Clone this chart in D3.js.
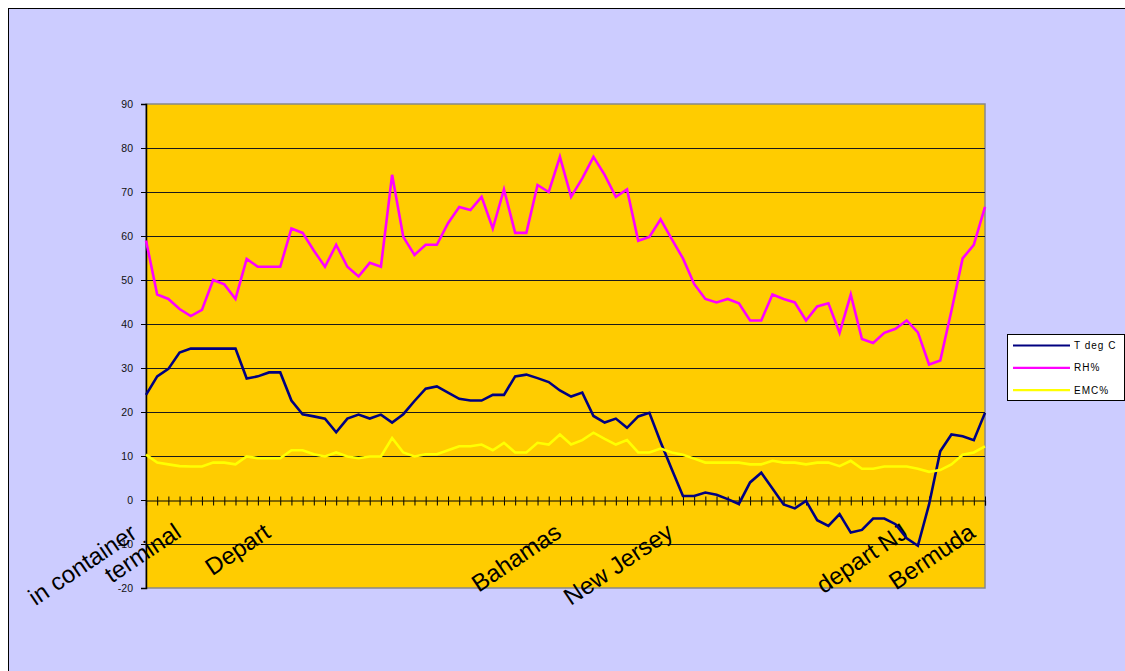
<!DOCTYPE html>
<html>
<head>
<meta charset="utf-8">
<script src="https://cdn.jsdelivr.net/npm/d3@7"></script>
<style>
  html, body { margin: 0; padding: 0; background: #ffffff; overflow: hidden; }
  svg { display: block; }
  text { font-family: "Liberation Sans", Arial, sans-serif; }
</style>
</head>
<body>
<svg id="chart" width="1125" height="671"></svg>
<script>
// ---------------- data ----------------
const seriesNames = ["T deg C", "RH%", "EMC%"];
const tempC = [23.9,28.1,29.8,33.5,34.4,34.4,34.4,34.4,34.4,27.6,
  28.1,29.0,29.0,22.6,19.5,19.0,18.5,15.4,18.5,19.4,
  18.5,19.4,17.6,19.5,22.5,25.3,25.8,24.4,23.0,22.6,
  22.6,23.9,23.9,28.1,28.5,27.7,26.8,24.9,23.5,24.4,
  19.1,17.6,18.5,16.4,19.0,19.8,13.2,7.0,0.9,0.9,
  1.7,1.2,0.2,-0.9,4.0,6.2,2.6,-1.0,-1.9,-0.2,
  -4.6,-5.9,-3.2,-7.4,-6.8,-4.2,-4.2,-5.5,-8.7,-10.4,
  -1.0,11.1,14.9,14.5,13.6,19.8];
const rhPct = [59,46.7,45.7,43.4,41.8,43.2,50,49,45.7,54.8,
  53,53,53,61.7,60.7,56.7,53,58,53,50.8,
  53.9,53,73.9,59.8,55.7,58,58,62.9,66.6,65.9,
  68.9,61.7,70.6,60.7,60.7,71.6,70,78,68.9,73.1,
  78,73.9,68.9,70.6,58.9,59.8,63.8,59.3,54.9,49.1,
  45.7,44.9,45.7,44.7,40.8,40.8,46.7,45.7,44.9,40.8,
  44,44.7,38,46.7,36.6,35.7,38,38.9,40.8,38.1,
  30.8,31.7,43,54.9,58,66.6];
const emcPct = [10.3,8.5,8.1,7.7,7.6,7.6,8.5,8.5,8.1,9.9,
  9.5,9.5,9.5,11.3,11.3,10.4,9.9,10.8,9.9,9.5,
  9.9,9.9,14.1,10.8,9.9,10.4,10.4,11.3,12.2,12.2,
  12.6,11.3,13.0,10.8,10.8,13.0,12.6,14.9,12.6,13.6,
  15.3,13.9,12.6,13.6,10.8,10.8,11.7,10.8,10.3,9.4,
  8.5,8.5,8.5,8.5,8.1,8.1,8.9,8.5,8.5,8.1,
  8.5,8.5,7.7,8.9,7.1,7.1,7.6,7.6,7.6,7.1,
  6.4,6.8,8.1,10.3,10.8,12.2];
// category labels (most categories have empty labels)
const labelIndex = [3, 11, 37, 47, 68, 74];
const labelText = [["in container", "terminal"], ["Depart"], ["Bahamas"], ["New Jersey"], ["depart NJ"], ["Bermuda"]];
const yTicks = [-20, -10, 0, 10, 20, 30, 40, 50, 60, 70, 80, 90];

// ---------------- layout ----------------
const W = 1125, H = 671;
const plot = { left: 146, right: 985, top: 104, bottom: 588 };
const colors = ["#000080", "#ff00ff", "#ffff00"];
const series = [tempC, rhPct, emcPct];

const svg = d3.select("#chart");

// chart area background with frame
svg.append("rect").attr("x", 8.5).attr("y", 8.5).attr("width", W).attr("height", H)
  .attr("fill", "#ccccff").attr("stroke", "#000").attr("stroke-width", 1);

const categories = d3.range(tempC.length);
const x = d3.scalePoint().domain(categories).range([plot.left, plot.right]);
const y = d3.scaleLinear().domain([-20, 90]).range([plot.bottom, plot.top]);

// plot area
svg.append("rect").attr("x", plot.left).attr("y", plot.top)
  .attr("width", plot.right - plot.left).attr("height", plot.bottom - plot.top)
  .attr("fill", "#ffcc00").attr("stroke", "#888888").attr("stroke-width", 1.5);

// gridlines
svg.append("g").selectAll("line").data(yTicks.filter(d => d !== -20 && d !== 90 && d !== 0))
  .join("line")
  .attr("x1", plot.left).attr("x2", plot.right)
  .attr("y1", d => Math.round(y(d)) + 0.5).attr("y2", d => Math.round(y(d)) + 0.5)
  .attr("stroke", "#1a1a1a").attr("stroke-width", 1);

// y axis
const yAxis = d3.axisLeft(y).tickValues(yTicks).tickSize(5).tickPadding(8).tickFormat(d => String(d));
const gy = svg.append("g").attr("transform", `translate(${plot.left},0)`).call(yAxis);
gy.select(".domain").attr("stroke", "#000").attr("stroke-width", 1.5);
gy.selectAll(".tick line").attr("stroke", "#000");
gy.selectAll(".tick text").attr("font-size", "10.5px").attr("fill", "#111")
  .style("font-family", "'Liberation Sans', Arial, sans-serif");

// x axis at y = 0 (cross ticks)
const y0 = Math.round(y(0)) + 0.5;
const gxDown = svg.append("g").attr("transform", `translate(0,${y0})`)
  .call(d3.axisBottom(x).tickSize(5).tickFormat(""));
gxDown.select(".domain").attr("stroke", "#000").attr("stroke-width", 1.2);
gxDown.selectAll(".tick line").attr("stroke", "#000");
const gxUp = svg.append("g").attr("transform", `translate(0,${y0})`)
  .call(d3.axisTop(x).tickSize(4).tickFormat(""));
gxUp.select(".domain").remove();
gxUp.selectAll(".tick line").attr("stroke", "#000");

// category labels, rotated
const labelG = svg.append("g");
labelIndex.forEach((idx, i) => {
  const lines = labelText[i];
  const g = labelG.append("g")
    .attr("transform", `translate(${x(idx) + 3},536) rotate(-34)`);
  const t = g.append("text").attr("text-anchor", "end")
    .attr("font-size", "24px").attr("fill", "#000");
  if (lines.length === 1) {
    t.text(lines[0]);
  } else {
    t.append("tspan").attr("x", -37).attr("y", -24).text(lines[0]);
    t.append("tspan").attr("x", 0).attr("y", 0).text(lines[1]);
  }
});

// series lines
const line = d3.line().x((d, i) => x(i)).y(d => y(d));
series.forEach((s, k) => {
  svg.append("path").datum(s)
    .attr("d", line)
    .attr("fill", "none")
    .attr("stroke", colors[k])
    .attr("stroke-width", 2.6)
    .attr("stroke-linejoin", "miter");
});

// legend
const lg = svg.append("g");
lg.append("rect").attr("x", 1007.5).attr("y", 334.5).attr("width", 117).attr("height", 66)
  .attr("fill", "#ffffff").attr("stroke", "#000").attr("stroke-width", 1);
seriesNames.forEach((name, k) => {
  const ly = 345.5 + k * 22.3;
  lg.append("line").attr("x1", 1013).attr("x2", 1070).attr("y1", ly).attr("y2", ly)
    .attr("stroke", colors[k]).attr("stroke-width", 2.2);
  lg.append("text").attr("x", 1074).attr("y", ly + 3.5)
    .attr("font-size", "10px").attr("letter-spacing", "1px").attr("fill", "#000").text(name);
});
</script>
</body>
</html>
